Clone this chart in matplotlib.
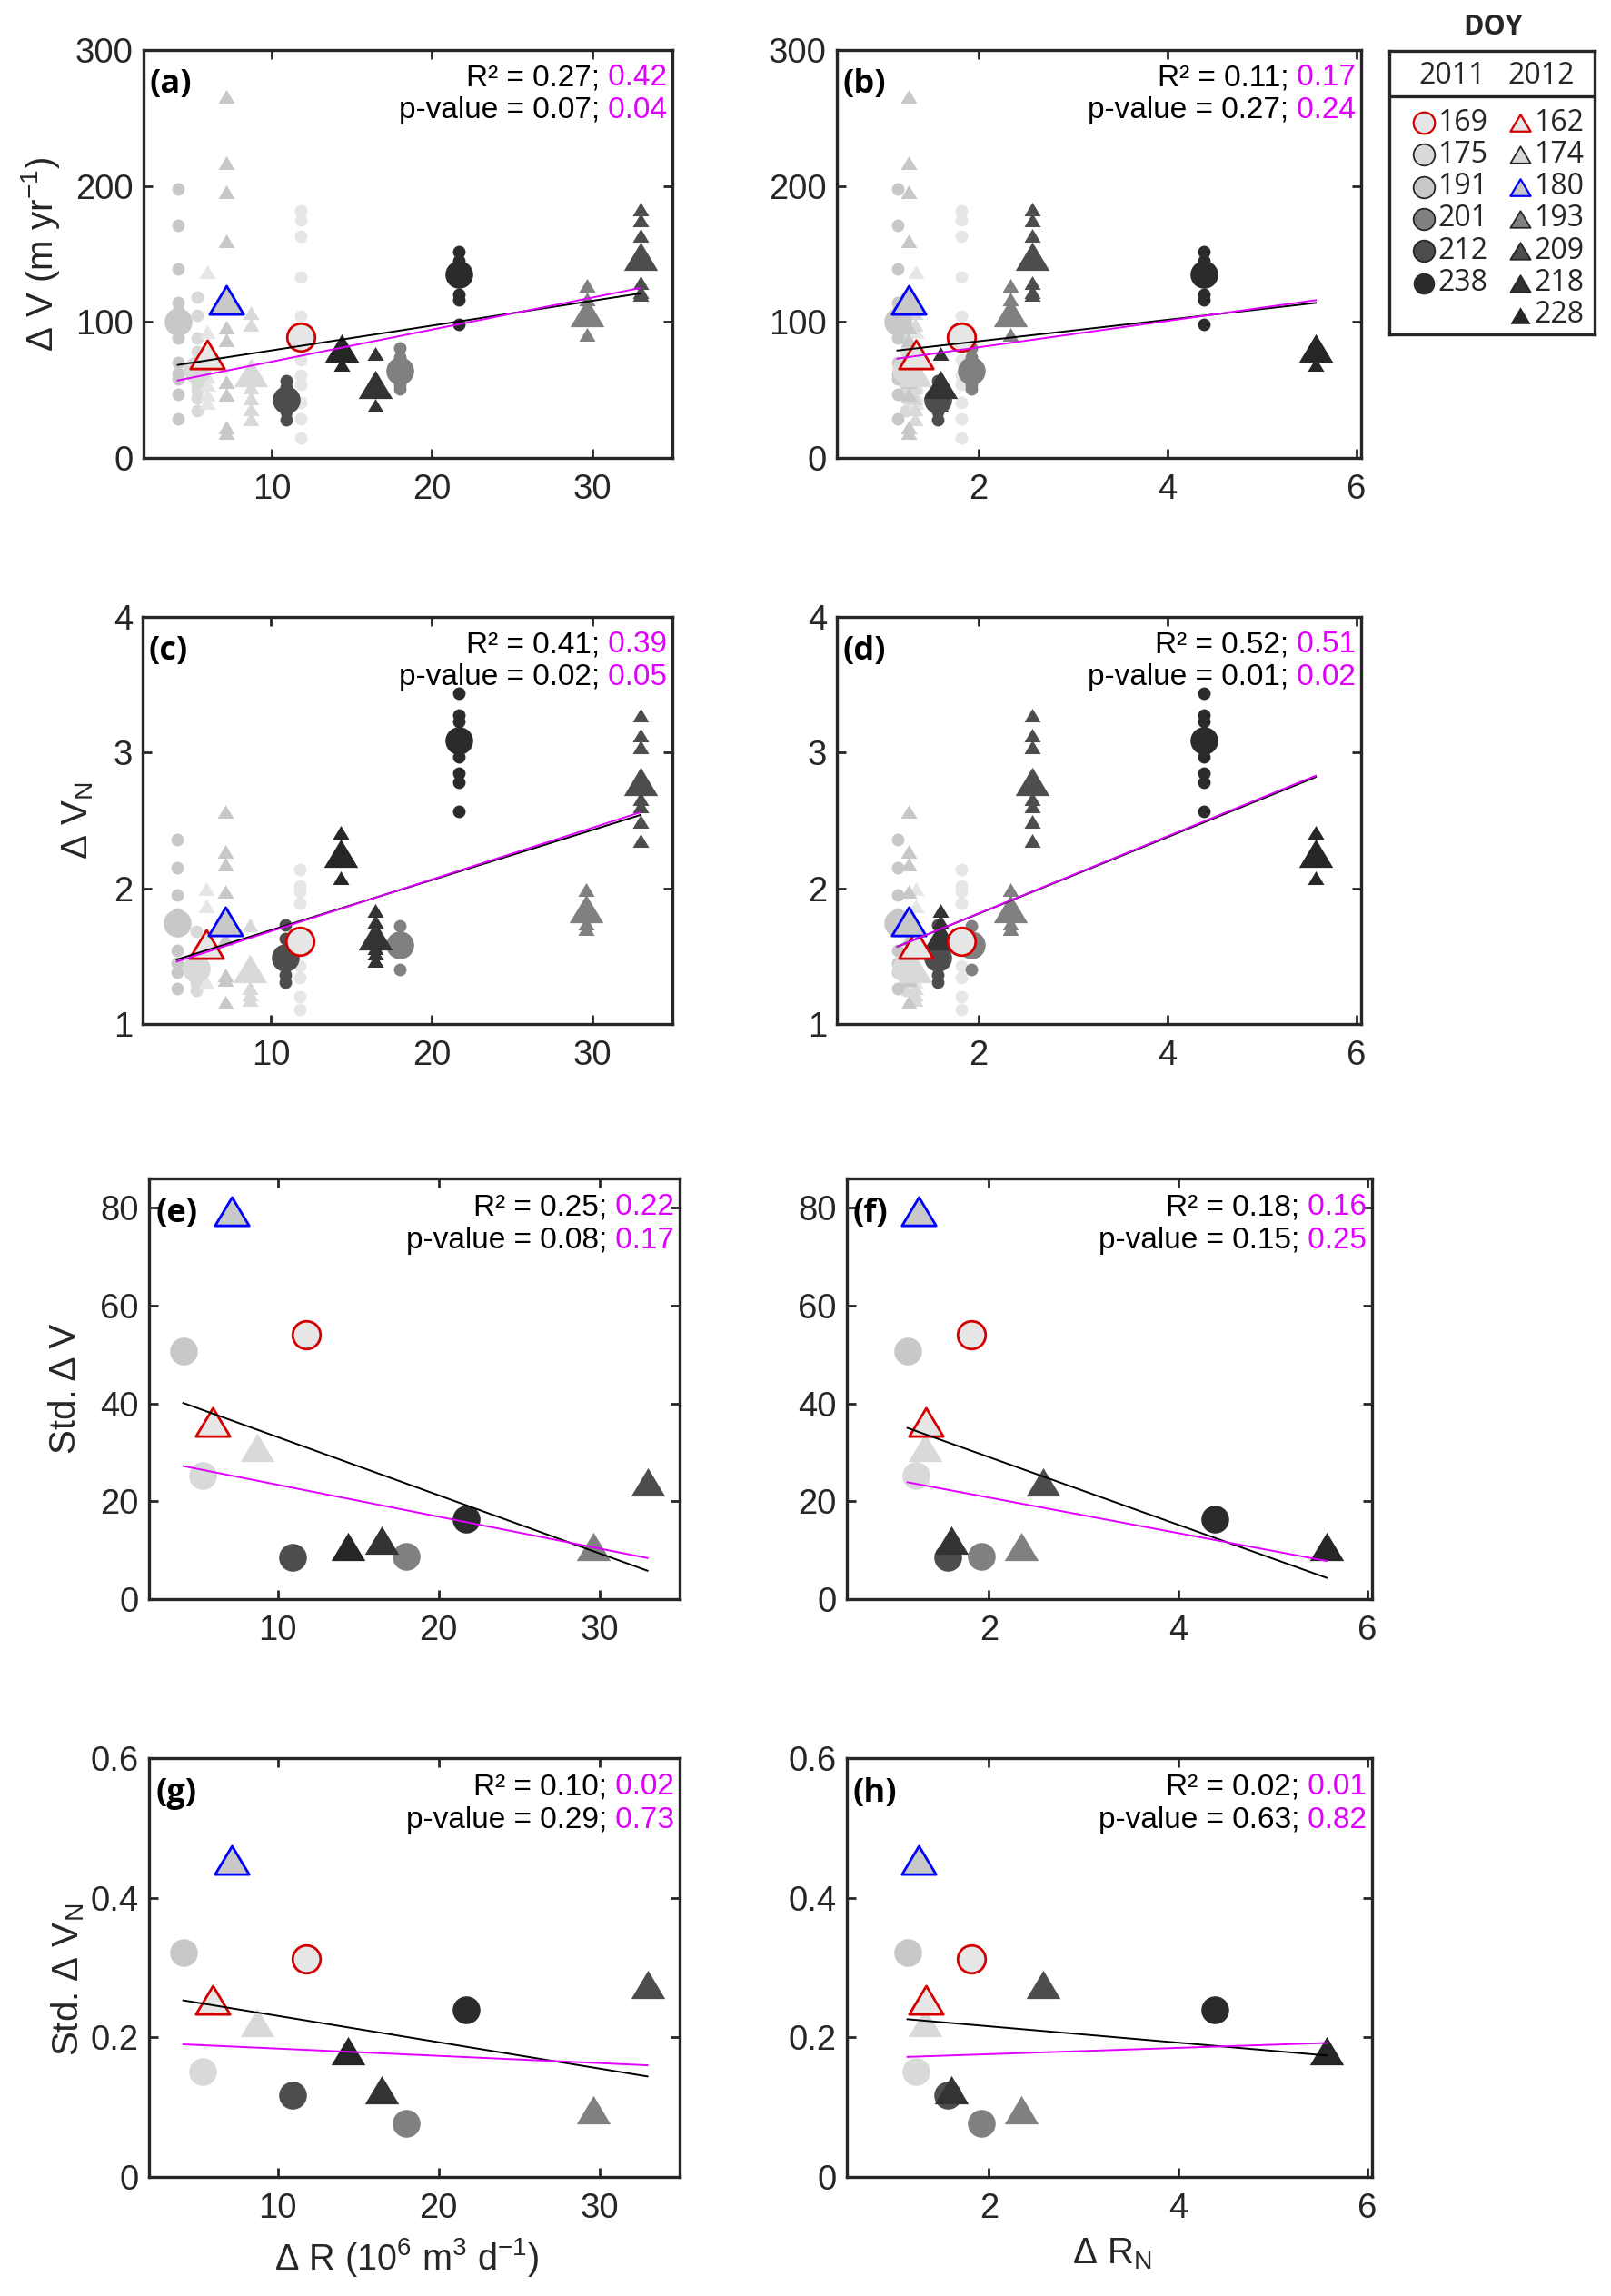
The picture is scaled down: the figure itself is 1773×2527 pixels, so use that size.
import matplotlib as mpl
mpl.use('Agg')
import matplotlib.pyplot as plt
from matplotlib.markers import MarkerStyle
from matplotlib.path import Path

plt.rc('font', family='Liberation Sans')
plt.rc('mathtext', default='regular')

W, H = 1773, 2527
AXC = '#262626'
MAG = '#e100ff'

# ---- data, one entry per DOY ----
doy = ['169', '175', '191', '201', '212', '238', '162', '174', '180', '193', '209', '218', '228']
year = [2011] * 6 + [2012] * 7
fill = ['#e6e6e6', '#d9d9d9', '#c8c8c8', '#808080', '#4d4d4d', '#2b2b2b',
        '#e6e6e6', '#d9d9d9', '#c8c8c8', '#808080', '#4d4d4d', '#333333', '#262626']
edge = ['#d40000', None, None, None, None, None,
        '#d40000', None, '#0000ff', None, None, None, None]

dR = [11.8, 5.35, 4.13, 18.0, 10.9, 21.7, 5.95, 8.7, 7.15, 29.65, 33.0, 16.47, 14.35]
dRN = [1.82, 1.23, 1.14, 1.92, 1.57, 4.39, 1.34, 1.33, 1.26, 2.34, 2.57, 1.60, 5.57]

dV_mean = [89, 65, 100, 64, 43, 135, 76, 63, 116, 107, 148, 54, 81]
dVN_mean = [1.61, 1.41, 1.74, 1.58, 1.49, 3.09, 1.59, 1.41, 1.76, 1.85, 2.79, 1.65, 2.26]
dV_std = [54, 25.2, 50.7, 8.7, 8.5, 16.3, 36.2, 31, 79.4, 10.7, 23.9, 12.1, 10.7]
dVN_std = [0.312, 0.151, 0.322, 0.077, 0.117, 0.239, 0.254, 0.221, 0.454, 0.096, 0.276, 0.125, 0.181]

dV_pts = [
    [182, 175, 163, 133, 104, 72, 61, 54, 41, 29, 15],
    [118, 105, 88, 78, 60, 55, 50, 44, 35],
    [198, 171, 139, 114, 108, 88, 70, 62, 58, 47, 29],
    [81, 74, 54, 51],
    [57, 52, 34, 28],
    [152, 145, 141, 120, 116, 98],
    [137, 93, 60, 54, 47, 41],
    [107, 98, 52, 44, 36, 29],
    [266, 217, 196, 160, 96, 87, 56, 47, 23, 19],
    [127, 117, 91],
    [183, 175, 164, 129, 122, 120],
    [77, 39],
    [69],
]
dVN_pts = [
    [2.14, 2.02, 1.98, 1.89, 1.43, 1.34, 1.20, 1.11],
    [1.68, 1.50, 1.30, 1.25],
    [2.36, 2.15, 1.95, 1.81, 1.54, 1.45, 1.38, 1.26],
    [1.72, 1.40],
    [1.73, 1.63, 1.36, 1.31],
    [3.44, 3.28, 3.23, 3.02, 2.97, 2.85, 2.78, 2.57],
    [2.00, 1.87, 1.31],
    [1.73, 1.27, 1.22, 1.18],
    [2.57, 2.27, 2.18, 1.98, 1.63, 1.36, 1.33, 1.16],
    [1.99, 1.74, 1.70],
    [3.28, 3.13, 3.04, 2.66, 2.61, 2.49, 2.35],
    [1.84, 1.76, 1.56, 1.52, 1.47],
    [2.41, 2.08],
]

# regression lines (value at min x, value at max x), panels a..h
fit_k0 = [68.4, 79, 1.475, 1.57, 40.1, 35.0, 0.253, 0.226]
fit_k1 = [121, 114, 2.54, 2.82, 5.8, 4.35, 0.144, 0.174]
fit_m0 = [57, 73, 1.46, 1.57, 27.2, 23.9, 0.190, 0.172]
fit_m1 = [125, 116, 2.56, 2.83, 8.4, 7.8, 0.160, 0.192]

r2_k = ['0.27', '0.11', '0.41', '0.52', '0.25', '0.18', '0.10', '0.02']
r2_m = ['0.42', '0.17', '0.39', '0.51', '0.22', '0.16', '0.02', '0.01']
p_k = ['0.07', '0.27', '0.02', '0.01', '0.08', '0.15', '0.29', '0.63']
p_m = ['0.04', '0.24', '0.05', '0.02', '0.17', '0.25', '0.73', '0.82']

letters = 'abcdefgh'

# MATLAB-like wide triangle
TRI = MarkerStyle(Path([(-1.2, -1), (1.2, -1), (0, 1), (-1.2, -1)], closed=True))

fig = plt.figure(figsize=(W / 100, H / 100), dpi=100)

boxes = [(158, 740, 55, 504), (921, 1498, 55, 504),
         (157, 740, 679, 1127), (921, 1498, 679, 1127),
         (164, 748, 1297, 1760), (932, 1510, 1297, 1760),
         (164, 748, 1935, 2396), (932, 1510, 1935, 2396)]
axes = []
for l, r, t, b in boxes:
    axes.append(fig.add_axes([l / W, 1 - b / H, (r - l) / W, (b - t) / H]))


def marker_of(i):
    return TRI if year[i] == 2012 else 'o'


def big(ax, x, y, i):
    tri = year[i] == 2012
    ec = edge[i]
    ax.plot(x, y, ls='none', marker=marker_of(i), ms=27 if tri else 22,
            mfc=fill[i], mec=ec if ec else 'none', mew=2 if ec else 0, zorder=3)


def order():
    # plain groups first, circles before triangles, outlined groups on top
    plain = [i for i in range(len(doy)) if edge[i] is None]
    plain.sort(key=lambda i: year[i])
    return plain + [i for i in range(len(doy)) if edge[i] is not None]


sets = [(dR, dV_mean, dV_pts), (dRN, dV_mean, dV_pts),
        (dR, dVN_mean, dVN_pts), (dRN, dVN_mean, dVN_pts),
        (dR, dV_std, None), (dRN, dV_std, None),
        (dR, dVN_std, None), (dRN, dVN_std, None)]

for p, (ax, (xs, ys, pts)) in enumerate(zip(axes, sets)):
    if pts is not None:
        for i in range(len(doy)):
            tri = year[i] == 2012
            ax.plot([xs[i]] * len(pts[i]), pts[i], ls='none', marker=marker_of(i),
                    ms=13 if tri else 10, mfc=fill[i], mec='none', mew=0, zorder=2)
    for i in order():
        big(ax, xs[i], ys[i], i)
    x0, x1 = min(xs), max(xs)
    ax.plot([x0, x1], [fit_k0[p], fit_k1[p]], color='k', lw=1.4, zorder=5)
    ax.plot([x0, x1], [fit_m0[p], fit_m1[p]], color=MAG, lw=1.4, zorder=5)

    # stats text
    for yy, lab, vk, vm in [(0.931, 'R² = ', r2_k[p], r2_m[p]),
                            (0.851, 'p-value = ', p_k[p], p_m[p])]:
        t = ax.text(0.99, yy, ' ' + vm, transform=ax.transAxes, ha='right',
                    va='center', color=MAG, fontsize=24, zorder=6)
        ax.annotate(lab + vk + ';', xy=(0, 0.5), xycoords=t, ha='right',
                    va='center', color='k', fontsize=24, zorder=6)
    ax.text(0.012, 0.915, '(%s)' % letters[p], transform=ax.transAxes,
            ha='left', va='center', fontsize=26, fontweight='bold',
            family='Open Sans', color='k', zorder=6)

    # axes styling
    if p % 2 == 0:
        ax.set_xlim(2, 35)
        ax.set_xticks([10, 20, 30])
    else:
        ax.set_xlim(0.5, 6.05)
        ax.set_xticks([2, 4, 6])
    ax.tick_params(direction='in', length=7, width=2, top=True, right=True,
                   labelsize=27.5, colors=AXC)
    ax.tick_params(axis='x', pad=12)
    ax.tick_params(axis='y', pad=8)
    for s in ax.spines.values():
        s.set_linewidth(2.4)
        s.set_color(AXC)

for ax in axes[0:2]:
    ax.set_ylim(0, 300)
    ax.set_yticks([0, 100, 200, 300])
for ax in axes[2:4]:
    ax.set_ylim(1, 4)
    ax.set_yticks([1, 2, 3, 4])
for ax in axes[4:6]:
    ax.set_ylim(0, 86)
    ax.set_yticks([0, 20, 40, 60, 80])
for ax in axes[6:8]:
    ax.set_ylim(0, 0.6)
    ax.set_yticks([0, 0.2, 0.4, 0.6])
    ax.set_yticklabels(['0', '0.2', '0.4', '0.6'])

ylabels = ['Δ V (m yr$^{-1}$)', 'Δ V$_N$', 'Std. Δ V', 'Std. Δ V$_N$']
ylab_x = [-0.155, -0.09, -0.125, -0.118]
ylab_y = [0.5, 0.5, 0.5, 0.47]
for ax, lab, lx, ly in zip(axes[0::2], ylabels, ylab_x, ylab_y):
    ax.set_ylabel(lab, fontsize=29, color=AXC)
    ax.yaxis.set_label_coords(lx, ly)

axes[6].set_xlabel('Δ R (10$^6$ m$^3$ d$^{-1}$)', fontsize=28.5, color=AXC)
axes[6].xaxis.set_label_coords(0.485, -0.142)
axes[6].xaxis.label.set_va('top')
axes[7].set_xlabel('Δ R$_N$', fontsize=29, color=AXC)
axes[7].xaxis.set_label_coords(0.505, -0.142)
axes[7].xaxis.label.set_va('top')

# ---- DOY legend box ----
lx0, lx1, ly0, ly1 = 1529, 1755, 56, 368
lax = fig.add_axes([lx0 / W, 1 - ly1 / H, (lx1 - lx0) / W, (ly1 - ly0) / H])
lax.set_xlim(lx0, lx1)
lax.set_ylim(ly1, ly0)
lax.set_xticks([])
lax.set_yticks([])
for s in lax.spines.values():
    s.set_linewidth(2.4)
    s.set_color(AXC)
lax.axhline(106, color=AXC, lw=2.4)
lax.text(1598, 83, '2011', ha='center', va='center', fontsize=23, family='Open Sans', color=AXC)
lax.text(1696, 83, '2012', ha='center', va='center', fontsize=23, family='Open Sans', color=AXC)
fig.text(1643 / W, 1 - 30 / H, 'DOY', ha='center', va='center', fontsize=22,
         fontweight='bold', family='Open Sans', color=AXC)

row = {2011: 0, 2012: 0}
for i in range(len(doy)):
    k = row[year[i]]
    row[year[i]] += 1
    yy = 135 + 35.3 * k
    mx = 1567 if year[i] == 2011 else 1673
    tri = year[i] == 2012
    if edge[i]:
        ec, ew = edge[i], 1.6
    elif doy[i] in ('238', '228'):
        ec, ew = 'none', 0
    else:
        ec, ew = AXC, 1.3
    lax.plot(mx, yy, ls='none', marker=marker_of(i), ms=16 if tri else 17,
             mfc=fill[i], mec=ec, mew=ew)
    lax.text(mx + 15, yy, doy[i], ha='left', va='center', fontsize=23,
             family='Open Sans', color=AXC)

fig.savefig('out.png', dpi=100)
